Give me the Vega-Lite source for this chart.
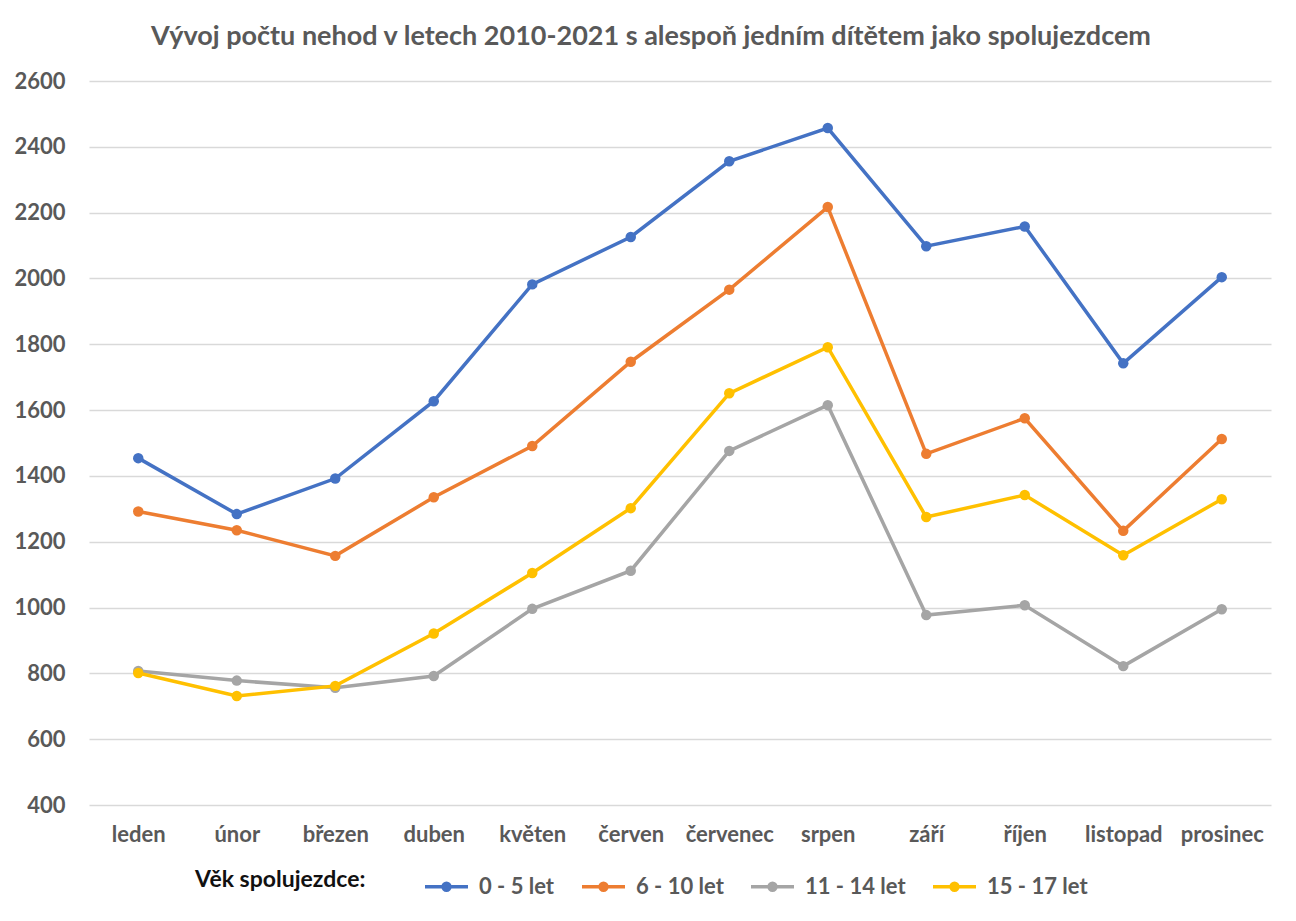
{
  "$schema": "https://vega.github.io/schema/vega-lite/v6.json",
  "autosize": "none",
  "width": 1182,
  "height": 724,
  "padding": {"left": 89, "top": 81, "right": 25, "bottom": 116},
  "background": "white",
  "title": {
    "text": "Vývoj počtu nehod v letech 2010-2021 s alespoň jedním dítětem jako spolujezdcem",
    "font": "Lato",
    "fontSize": 27,
    "fontWeight": "bold",
    "color": "#595959",
    "anchor": "middle",
    "offset": 19,
    "dx": -29
  },
  "config": {
    "view": {"stroke": null},
    "font": "Lato"
  },
  "data": {
    "values": [
      {"mesic": "leden", "skupina": "0 - 5 let", "pocet": 1454},
      {"mesic": "únor", "skupina": "0 - 5 let", "pocet": 1284},
      {"mesic": "březen", "skupina": "0 - 5 let", "pocet": 1392},
      {"mesic": "duben", "skupina": "0 - 5 let", "pocet": 1627},
      {"mesic": "květen", "skupina": "0 - 5 let", "pocet": 1982},
      {"mesic": "červen", "skupina": "0 - 5 let", "pocet": 2126},
      {"mesic": "červenec", "skupina": "0 - 5 let", "pocet": 2356},
      {"mesic": "srpen", "skupina": "0 - 5 let", "pocet": 2457},
      {"mesic": "září", "skupina": "0 - 5 let", "pocet": 2098},
      {"mesic": "říjen", "skupina": "0 - 5 let", "pocet": 2158},
      {"mesic": "listopad", "skupina": "0 - 5 let", "pocet": 1742},
      {"mesic": "prosinec", "skupina": "0 - 5 let", "pocet": 2004},
      {"mesic": "leden", "skupina": "6 - 10 let", "pocet": 1292},
      {"mesic": "únor", "skupina": "6 - 10 let", "pocet": 1235},
      {"mesic": "březen", "skupina": "6 - 10 let", "pocet": 1157},
      {"mesic": "duben", "skupina": "6 - 10 let", "pocet": 1335},
      {"mesic": "květen", "skupina": "6 - 10 let", "pocet": 1491},
      {"mesic": "červen", "skupina": "6 - 10 let", "pocet": 1747},
      {"mesic": "červenec", "skupina": "6 - 10 let", "pocet": 1966},
      {"mesic": "srpen", "skupina": "6 - 10 let", "pocet": 2217},
      {"mesic": "září", "skupina": "6 - 10 let", "pocet": 1467},
      {"mesic": "říjen", "skupina": "6 - 10 let", "pocet": 1575},
      {"mesic": "listopad", "skupina": "6 - 10 let", "pocet": 1233},
      {"mesic": "prosinec", "skupina": "6 - 10 let", "pocet": 1512},
      {"mesic": "leden", "skupina": "11 - 14 let", "pocet": 807},
      {"mesic": "únor", "skupina": "11 - 14 let", "pocet": 778},
      {"mesic": "březen", "skupina": "11 - 14 let", "pocet": 756},
      {"mesic": "duben", "skupina": "11 - 14 let", "pocet": 792},
      {"mesic": "květen", "skupina": "11 - 14 let", "pocet": 996},
      {"mesic": "červen", "skupina": "11 - 14 let", "pocet": 1112},
      {"mesic": "červenec", "skupina": "11 - 14 let", "pocet": 1476},
      {"mesic": "srpen", "skupina": "11 - 14 let", "pocet": 1615},
      {"mesic": "září", "skupina": "11 - 14 let", "pocet": 977},
      {"mesic": "říjen", "skupina": "11 - 14 let", "pocet": 1007},
      {"mesic": "listopad", "skupina": "11 - 14 let", "pocet": 822},
      {"mesic": "prosinec", "skupina": "11 - 14 let", "pocet": 995},
      {"mesic": "leden", "skupina": "15 - 17 let", "pocet": 801},
      {"mesic": "únor", "skupina": "15 - 17 let", "pocet": 731},
      {"mesic": "březen", "skupina": "15 - 17 let", "pocet": 762},
      {"mesic": "duben", "skupina": "15 - 17 let", "pocet": 921},
      {"mesic": "květen", "skupina": "15 - 17 let", "pocet": 1105},
      {"mesic": "červen", "skupina": "15 - 17 let", "pocet": 1302},
      {"mesic": "červenec", "skupina": "15 - 17 let", "pocet": 1651},
      {"mesic": "srpen", "skupina": "15 - 17 let", "pocet": 1791},
      {"mesic": "září", "skupina": "15 - 17 let", "pocet": 1275},
      {"mesic": "říjen", "skupina": "15 - 17 let", "pocet": 1342},
      {"mesic": "listopad", "skupina": "15 - 17 let", "pocet": 1159},
      {"mesic": "prosinec", "skupina": "15 - 17 let", "pocet": 1329}
    ]
  },
  "encoding": {
    "x": {
      "field": "mesic",
      "type": "nominal",
      "sort": ["leden", "únor", "březen", "duben", "květen", "červen", "červenec", "srpen", "září", "říjen", "listopad", "prosinec"],
      "scale": {"paddingInner": 0, "paddingOuter": 0},
      "axis": {
        "title": null,
        "domain": false,
        "ticks": false,
        "grid": false,
        "labelAngle": 0,
        "labelFont": "Lato",
        "labelFontSize": 22,
        "labelFontWeight": "bold",
        "labelColor": "#595959",
        "labelPadding": 19
      }
    },
    "y": {
      "field": "pocet",
      "type": "quantitative",
      "scale": {"domain": [400, 2600], "nice": false, "zero": false},
      "axis": {
        "title": null,
        "format": "d",
        "values": [400, 600, 800, 1000, 1200, 1400, 1600, 1800, 2000, 2200, 2400, 2600],
        "domain": false,
        "ticks": false,
        "grid": true,
        "gridColor": "#d9d9d9",
        "gridWidth": 1.5,
        "labelFont": "Lato",
        "labelFontSize": 22,
        "labelFontWeight": "bold",
        "labelColor": "#595959",
        "labelPadding": 24
      }
    },
    "color": {
      "field": "skupina",
      "type": "nominal",
      "sort": ["0 - 5 let", "6 - 10 let", "11 - 14 let", "15 - 17 let"],
      "scale": {
        "domain": ["0 - 5 let", "6 - 10 let", "11 - 14 let", "15 - 17 let"],
        "range": ["#4472C4", "#ED7D31", "#A5A5A5", "#FFC000"]
      },
      "legend": {
        "title": "Věk spolujezdce:",
        "orient": "none",
        "legendX": 106,
        "legendY": 782,
        "direction": "horizontal",
        "titleOrient": "left",
        "titleFont": "Lato",
        "titleFontSize": 23,
        "titleFontWeight": "bold",
        "titleColor": "#111111",
        "titlePadding": 57,
        "labelFont": "Lato",
        "labelFontSize": 22,
        "labelFontWeight": "bold",
        "labelColor": "#595959",
        "labelOffset": 9,
        "columnPadding": 20,
        "symbolType": "M-1,0L1,0M-0.16,0A0.16,0.16,0,1,1,0.16,0A0.16,0.16,0,1,1,-0.16,0Z",
        "symbolSize": 1849,
        "symbolStrokeWidth": 3.5,
        "encode": {
          "symbols": {"update": {"fill": {"scale": "color", "field": "value"}}}
        }
      }
    }
  },
  "layer": [
    {"mark": {"type": "line", "strokeWidth": 3.5}},
    {"mark": {"type": "point", "filled": true, "size": 110, "opacity": 1}}
  ]
}
